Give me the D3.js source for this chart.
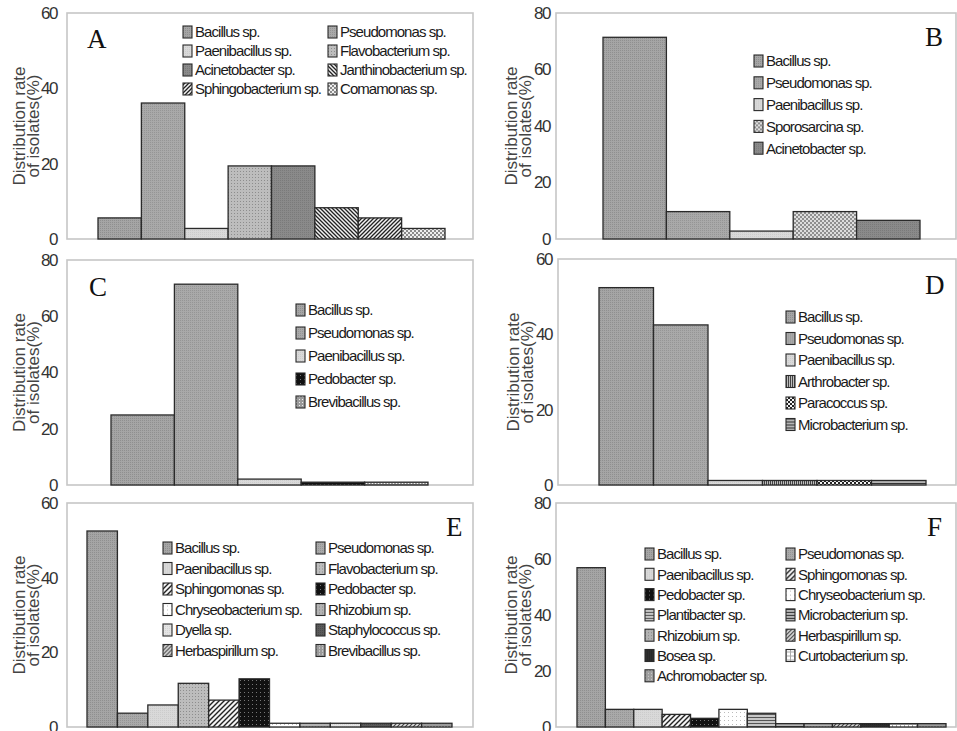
<!DOCTYPE html>
<html>
<head>
<meta charset="utf-8">
<script src="https://cdn.jsdelivr.net/npm/d3@7"></script>
<style>
  body { margin: 0; background: #fff; }
  text { font-family: "Liberation Sans", Arial, sans-serif; }
</style>
</head>
<body>
<svg id="vis" width="957" height="731"></svg>
<script>
// ---- data ----
const speciesA = ['Bacillus sp.', 'Pseudomonas sp.', 'Paenibacillus sp.', 'Flavobacterium sp.',
  'Acinetobacter sp.', 'Janthinobacterium sp.', 'Sphingobacterium sp.', 'Comamonas sp.'];
const valuesA = [5.6, 36.1, 2.8, 19.4, 19.4, 8.3, 5.6, 2.8];
const ticksA = [0, 20, 40, 60];

const speciesB = ['Bacillus sp.', 'Pseudomonas sp.', 'Paenibacillus sp.', 'Sporosarcina sp.', 'Acinetobacter sp.'];
const valuesB = [71.4, 9.7, 2.8, 9.7, 6.6];
const ticksB = [0, 20, 40, 60, 80];

const speciesC = ['Bacillus sp.', 'Pseudomonas sp.', 'Paenibacillus sp.', 'Pedobacter sp.', 'Brevibacillus sp.'];
const valuesC = [24.9, 71.4, 2.1, 1.0, 1.0];
const ticksC = [0, 20, 40, 60, 80];

const speciesD = ['Bacillus sp.', 'Pseudomonas sp.', 'Paenibacillus sp.', 'Arthrobacter sp.',
  'Paracoccus sp.', 'Microbacterium sp.'];
const valuesD = [52.4, 42.5, 1.2, 1.2, 1.2, 1.2];
const ticksD = [0, 20, 40, 60];

const speciesE = ['Bacillus sp.', 'Pseudomonas sp.', 'Paenibacillus sp.', 'Flavobacterium sp.',
  'Sphingomonas sp.', 'Pedobacter sp.', 'Chryseobacterium sp.', 'Rhizobium sp.',
  'Dyella sp.', 'Staphylococcus sp.', 'Herbaspirillum sp.', 'Brevibacillus sp.'];
const valuesE = [52.5, 3.7, 5.9, 11.7, 7.2, 12.9, 1.0, 1.0, 1.0, 1.0, 1.0, 1.0];
const ticksE = [0, 20, 40, 60];

const speciesF = ['Bacillus sp.', 'Pseudomonas sp.', 'Paenibacillus sp.', 'Sphingomonas sp.',
  'Pedobacter sp.', 'Chryseobacterium sp.', 'Plantibacter sp.', 'Microbacterium sp.',
  'Rhizobium sp.', 'Herbaspirillum sp.', 'Bosea sp.', 'Curtobacterium sp.', 'Achromobacter sp.'];
const valuesF = [56.9, 6.3, 6.3, 4.5, 3.1, 6.3, 4.9, 1.2, 1.2, 1.2, 1.2, 1.2, 1.2];
const ticksF = [0, 20, 40, 60, 80];

const vis = d3.select('#vis');
const defs = vis.append('defs');

// small helper for fill patterns (grayscale print look)
const addPattern = (id, size, bg, draw) => {
  let p = defs.append('pattern')
    .attr('id', id)
    .attr('patternUnits', 'userSpaceOnUse')
    .attr('width', size)
    .attr('height', size);
  p.append('rect').attr('width', size).attr('height', size).attr('fill', bg);
  if (draw) draw(p, size);
};
const dot = (col, r) => (p) => p.append('rect').attr('width', r).attr('height', r).attr('fill', col);
const checker = (col) => (p, s) => {
  p.append('rect').attr('width', s / 2).attr('height', s / 2).attr('fill', col);
  p.append('rect').attr('x', s / 2).attr('y', s / 2).attr('width', s / 2).attr('height', s / 2).attr('fill', col);
};
const slash = (col, w) => (p, s) => {
  p.append('path').attr('d', `M0,${s} L${s},0 M-1,1 L1,-1 M${s - 1},${s + 1} L${s + 1},${s - 1}`)
    .attr('stroke', col).attr('stroke-width', w);
};
const backslash = (col, w) => (p, s) => {
  p.append('path').attr('d', `M0,0 L${s},${s} M${s - 1},-1 L${s + 1},1 M-1,${s - 1} L1,${s + 1}`)
    .attr('stroke', col).attr('stroke-width', w);
};
const hline = (col) => (p, s) => p.append('rect').attr('width', s).attr('height', 1).attr('fill', col);
const vline = (col) => (p, s) => p.append('rect').attr('width', 1).attr('height', s).attr('fill', col);

addPattern('p-bac', 2, '#a5a5a5', dot('#8f8f8f', 1));
addPattern('p-pse', 2, '#a9a9a9', dot('#959595', 1));
addPattern('p-pae', 2, '#d9d9d9', dot('#cccccc', 1));
addPattern('p-fla', 3, '#bdbdbd', dot('#8d8d8d', 1));
addPattern('p-aci', 2, '#8a8a8a', dot('#7a7a7a', 1));
addPattern('p-jan', 4, '#f2f2f2', backslash('#222', 1.3));
addPattern('p-sphb', 4, '#f2f2f2', slash('#222', 1.3));
addPattern('p-com', 4, '#eeeeee', checker('#8a8a8a'));
addPattern('p-spo', 4, '#dddddd', checker('#8f8f8f'));
addPattern('p-ped', 4, '#111111', dot('#777', 1));
addPattern('p-bre', 3, '#9a9a9a', dot('#eeeeee', 1));
addPattern('p-art', 2, '#bdbdbd', vline('#444'));
addPattern('p-par', 4, '#f5f5f5', checker('#222'));
addPattern('p-mic', 3, '#b5b5b5', hline('#333'));
addPattern('p-sphm', 5, '#f5f5f5', slash('#222', 1.4));
addPattern('p-chr', 4, '#ffffff', dot('#bbbbbb', 1));
addPattern('p-rhi', 3, '#b3b3b3', dot('#888', 1));
addPattern('p-dye', 2, '#e4e4e4', dot('#d5d5d5', 1));
addPattern('p-sta', 2, '#5a5a5a', dot('#4a4a4a', 1));
addPattern('p-her', 4, '#dddddd', slash('#444', 1.2));
addPattern('p-pla', 3, '#c6c6c6', hline('#555'));
addPattern('p-bos', 2, '#2e2e2e', dot('#222', 1));
addPattern('p-cur', 4, '#ffffff', (p, s) => {
  p.append('rect').attr('width', s).attr('height', 1).attr('fill', '#aaa');
  p.append('rect').attr('width', 1).attr('height', s).attr('fill', '#aaa');
});
addPattern('p-ach', 3, '#9d9d9d', dot('#cfcfcf', 1));

const fills = {
  'Bacillus sp.': 'p-bac', 'Pseudomonas sp.': 'p-pse', 'Paenibacillus sp.': 'p-pae',
  'Flavobacterium sp.': 'p-fla', 'Acinetobacter sp.': 'p-aci', 'Janthinobacterium sp.': 'p-jan',
  'Sphingobacterium sp.': 'p-sphb', 'Comamonas sp.': 'p-com', 'Sporosarcina sp.': 'p-spo',
  'Pedobacter sp.': 'p-ped', 'Brevibacillus sp.': 'p-bre', 'Arthrobacter sp.': 'p-art',
  'Paracoccus sp.': 'p-par', 'Microbacterium sp.': 'p-mic', 'Sphingomonas sp.': 'p-sphm',
  'Chryseobacterium sp.': 'p-chr', 'Rhizobium sp.': 'p-rhi', 'Dyella sp.': 'p-dye',
  'Staphylococcus sp.': 'p-sta', 'Herbaspirillum sp.': 'p-her', 'Plantibacter sp.': 'p-pla',
  'Bosea sp.': 'p-bos', 'Curtobacterium sp.': 'p-cur', 'Achromobacter sp.': 'p-ach'
};

const drawPanel = (species, values, ticks, cfg) => {
  const g = vis.append('g');
  const f = cfg.frame;

  const y = d3.scaleLinear()
    .domain([0, d3.max(ticks)])
    .range([f.bottom, f.top]);

  const x = d3.scaleBand()
    .domain(species)
    .range(cfg.bars)
    .padding(0);

  // light gray plot frame
  g.append('rect')
    .attr('x', f.left).attr('y', f.top)
    .attr('width', f.right - f.left).attr('height', f.bottom - f.top)
    .attr('fill', 'none')
    .attr('stroke', '#c6c6c6')
    .attr('stroke-width', 1.6);

  // y axis, no tick marks
  const axis = g.append('g')
    .attr('transform', `translate(${f.left},0)`)
    .call(d3.axisLeft(y).tickValues(ticks).tickSize(0).tickPadding(cfg.tickGap));
  axis.select('.domain').remove();
  axis.selectAll('text')
    .style('font-size', '17px')
    .style('letter-spacing', '-1.5px')
    .attr('fill', '#333');

  // two-line rotated axis title
  const cy = (f.top + f.bottom) / 2;
  ['Distribution rate', 'of isolates(%)'].forEach((t, i) => {
    g.append('text')
      .attr('transform', `translate(${f.left + cfg.titleX[i]},${cy}) rotate(-90)`)
      .attr('text-anchor', 'middle')
      .attr('dy', '0.35em')
      .style('font-size', '17px')
      .attr('fill', '#444')
      .text(t);
  });

  // bars
  g.selectAll('rect.bar')
    .data(species)
    .enter()
    .append('rect')
    .attr('class', 'bar')
    .attr('x', (d) => x(d))
    .attr('y', (d, i) => y(values[i]))
    .attr('width', x.bandwidth())
    .attr('height', (d, i) => f.bottom - y(values[i]))
    .attr('fill', (d) => `url(#${fills[d]})`)
    .attr('stroke', '#2a2a2a')
    .attr('stroke-width', 1.3);

  // legend, row-major over the columns
  const L = cfg.legend;
  const nc = L.cols.length;
  const items = g.selectAll('g.leg')
    .data(species)
    .enter()
    .append('g')
    .attr('class', 'leg')
    .attr('transform', (d, i) => `translate(${L.cols[i % nc]},${L.y0 + Math.floor(i / nc) * L.step})`);
  items.append('rect')
    .attr('x', 0).attr('y', -6)
    .attr('width', 9).attr('height', 12)
    .attr('fill', (d) => `url(#${fills[d]})`)
    .attr('stroke', '#2a2a2a')
    .attr('stroke-width', 1.1);
  items.append('text')
    .attr('x', 12)
    .attr('dy', '0.36em')
    .style('font-size', '15px')
    .style('letter-spacing', '-0.95px')
    .attr('fill', '#1a1a1a')
    .text((d) => d);

  // panel letter
  g.append('text')
    .attr('x', cfg.letter[0]).attr('y', cfg.letter[1])
    .style('font-family', '"Liberation Serif", "Times New Roman", serif')
    .style('font-size', '27px')
    .attr('fill', '#111')
    .text(cfg.name);
};

const leftTitle = [-48, -34];
const rightTitle = [-45, -31];

drawPanel(speciesA, valuesA, ticksA, {
  name: 'A', frame: {left: 67, right: 473, top: 13, bottom: 239}, bars: [98, 445],
  tickGap: 10, titleX: leftTitle, letter: [87, 48],
  legend: {cols: [183, 328], y0: 32, step: 19}
});
drawPanel(speciesB, valuesB, ticksB, {
  name: 'B', frame: {left: 556, right: 956, top: 13, bottom: 239}, bars: [603, 920],
  tickGap: 6, titleX: rightTitle, letter: [925, 46],
  legend: {cols: [754], y0: 61, step: 21.8}
});
drawPanel(speciesC, valuesC, ticksC, {
  name: 'C', frame: {left: 67, right: 473, top: 260, bottom: 485}, bars: [111, 428],
  tickGap: 10, titleX: leftTitle, letter: [89, 296],
  legend: {cols: [296], y0: 310, step: 23}
});
drawPanel(speciesD, valuesD, ticksD, {
  name: 'D', frame: {left: 558, right: 956, top: 259, bottom: 485}, bars: [599, 926],
  tickGap: 6, titleX: rightTitle, letter: [925, 294],
  legend: {cols: [786], y0: 317, step: 21.5}
});
drawPanel(speciesE, valuesE, ticksE, {
  name: 'E', frame: {left: 67, right: 473, top: 503, bottom: 727}, bars: [87, 452],
  tickGap: 10, titleX: leftTitle, letter: [446, 536],
  legend: {cols: [163, 316], y0: 548, step: 20.5}
});
drawPanel(speciesF, valuesF, ticksF, {
  name: 'F', frame: {left: 556, right: 956, top: 503, bottom: 727}, bars: [577, 946],
  tickGap: 6, titleX: rightTitle, letter: [927, 536],
  legend: {cols: [645, 786], y0: 554, step: 20.3}
});
</script>
</body>
</html>
